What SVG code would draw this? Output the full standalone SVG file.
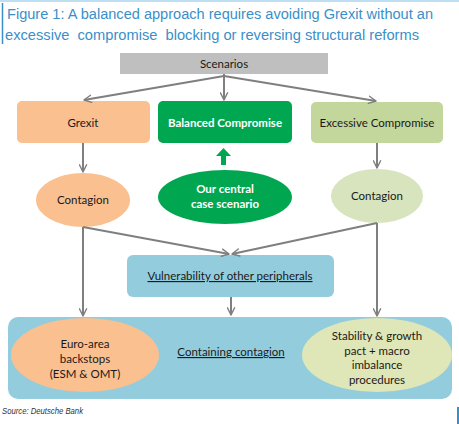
<svg xmlns="http://www.w3.org/2000/svg" width="459" height="424" viewBox="0 0 459 424">
<defs>
<marker id="arr" viewBox="0 0 10 10" refX="9" refY="5" markerWidth="4.5" markerHeight="4.5" orient="auto" markerUnits="strokeWidth">
<path d="M1,1 L9,5 L1,9" fill="none" stroke="#7f7f7f" stroke-width="1.6" stroke-linecap="round" stroke-linejoin="round"/>
</marker>
<style>
.title{font-family:"Liberation Sans",Arial,sans-serif;font-size:14px;fill:#3a8fc9;white-space:pre}
.t{font-family:Lato,"Liberation Sans",sans-serif;font-size:11.5px;fill:#1a1a1a;text-anchor:middle}
.w{fill:#ffffff;font-weight:bold}
.u{text-decoration:underline}
.conn line{stroke:#7f7f7f;stroke-width:2;fill:none;marker-end:url(#arr)}
</style>
</defs>
<rect width="459" height="424" fill="#ffffff"/>
<line x1="0" y1="1" x2="459" y2="1" stroke="#a8d4ee" stroke-width="1.5"/>
<line x1="2.5" y1="3" x2="2.5" y2="44" stroke="#3a8fc9" stroke-width="1.5"/>
<text class="title" x="7" y="19" textLength="426" lengthAdjust="spacingAndGlyphs">Figure 1: A balanced approach requires avoiding Grexit without an</text>
<text class="title" x="5" y="40" xml:space="preserve" textLength="414" lengthAdjust="spacingAndGlyphs">excessive  compromise  blocking or reversing structural reforms</text>

<g id="containing">
<rect x="8" y="317" width="444" height="82" rx="10" fill="#93cddd"/>
<text class="t u" x="231" y="356">Containing contagion</text>
</g>
<g id="scenarios">
<rect x="120" y="53" width="208" height="21" fill="#bfbfbf"/>
<text class="t" x="224" y="67.5">Scenarios</text>
</g>
<g id="grexit">
<rect x="17" y="101" width="133" height="42" rx="5" fill="#fac090"/>
<text class="t" x="83" y="126.5">Grexit</text>
</g>
<g id="balanced">
<rect x="158" y="101" width="134" height="42" rx="5" fill="#00a650"/>
<text class="t w" x="225" y="126.5">Balanced Compromise</text>
</g>
<g id="excessive">
<rect x="311" y="102" width="132" height="41" rx="5" fill="#c3d69b"/>
<text class="t" x="377" y="126.5">Excessive Compromise</text>
</g>
<g id="central">
<path d="M221,165 L221,156 L216,156 L223.5,148 L231,156 L226,156 L226,165 Z" fill="#00a650"/>
<ellipse cx="225" cy="197" rx="67" ry="27" fill="#00a650"/>
<text class="t w" x="225" y="193">Our central</text>
<text class="t w" x="225" y="208">case scenario</text>
</g>
<g id="contagion-left">
<ellipse cx="83" cy="200" rx="47" ry="27" fill="#fac090"/>
<text class="t" x="83" y="204">Contagion</text>
</g>
<g id="contagion-right">
<ellipse cx="377" cy="196" rx="46" ry="27" fill="#d7e4bd"/>
<text class="t" x="377" y="200">Contagion</text>
</g>
<g id="vulnerability">
<rect x="127" y="255" width="207" height="42" rx="6" fill="#93cddd"/>
<text class="t u" x="230" y="280">Vulnerability of other peripherals</text>
</g>
<g id="euro">
<ellipse cx="85" cy="355" rx="74" ry="37" fill="#fac090"/>
<text class="t" x="85" y="348">Euro-area</text>
<text class="t" x="85" y="363">backstops</text>
<text class="t" x="85" y="378">(ESM &amp; OMT)</text>
</g>
<g id="stability">
<ellipse cx="377" cy="355" rx="75" ry="37" fill="#dfe6b7"/>
<text class="t" x="377" y="340">Stability &amp; growth</text>
<text class="t" x="377" y="355">pact + macro</text>
<text class="t" x="377" y="369">imbalance</text>
<text class="t" x="377" y="384">procedures</text>
</g>
<g class="conn">
<line x1="224" y1="76" x2="84" y2="100"/>
<line x1="224" y1="74" x2="224" y2="100"/>
<line x1="224" y1="76" x2="376" y2="101"/>
<line x1="83" y1="143" x2="83" y2="172"/>
<line x1="377" y1="143" x2="377" y2="168"/>
<line x1="83" y1="227" x2="83" y2="316"/>
<line x1="83" y1="227" x2="229" y2="254"/>
<line x1="377" y1="223" x2="377" y2="316"/>
<line x1="377" y1="223" x2="232" y2="254"/>
<line x1="231" y1="297" x2="231" y2="315"/>
</g>
<text x="2" y="414" font-family="'Liberation Sans',Arial,sans-serif" font-size="8.5px" font-style="italic" fill="#333333" textLength="81" lengthAdjust="spacingAndGlyphs">Source: Deutsche Bank</text>
<rect x="457" y="407" width="2" height="17" fill="#3a8fc9"/>
</svg>
